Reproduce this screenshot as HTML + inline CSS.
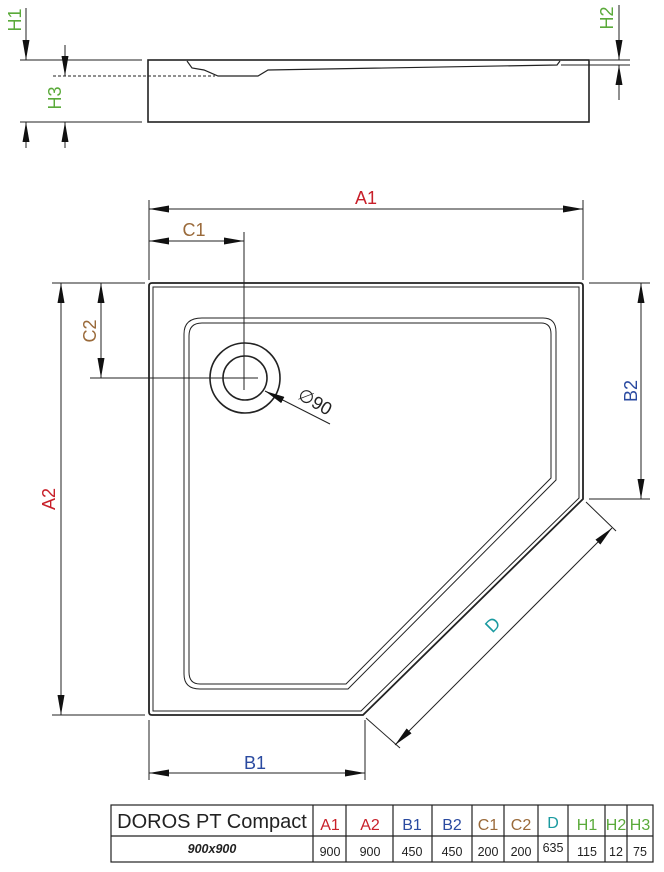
<!DOCTYPE html>
<html><head><meta charset="utf-8"><style>
html,body{margin:0;padding:0;background:#fff;}
svg{display:block;font-family:"Liberation Sans",sans-serif;}
</style></head><body>
<svg width="664" height="872" viewBox="0 0 664 872" xmlns="http://www.w3.org/2000/svg">
<defs>
<marker id="a" viewBox="0 0 20 7" refX="20" refY="3.5" markerWidth="20" markerHeight="7" markerUnits="userSpaceOnUse" orient="auto-start-reverse"><path d="M0,0 L20,3.5 L0,7 Z" fill="#111"/></marker>
</defs>
<g stroke="#222" fill="none" stroke-width="1">
<!-- side view -->
<rect x="148" y="60" width="441" height="62" stroke-width="1.6"/>
<path d="M187,61 L192,68 L204,70 L218,76 L258,76 L268,70 L557,65 L560,61" stroke-width="1.2"/>
<line x1="561" y1="65" x2="630" y2="65"/>
<line x1="20" y1="60" x2="142" y2="60"/>
<line x1="20" y1="122" x2="142" y2="122"/>
<line x1="590" y1="60" x2="630" y2="60"/>
<line x1="53" y1="76" x2="215" y2="76" stroke-dasharray="3,2"/>
<line x1="26" y1="8" x2="26" y2="60" marker-end="url(#a)"/>
<line x1="26" y1="148" x2="26" y2="122" marker-end="url(#a)"/>
<line x1="65" y1="45" x2="65" y2="76" marker-end="url(#a)"/>
<line x1="65" y1="148" x2="65" y2="122" marker-end="url(#a)"/>
<line x1="619" y1="5" x2="619" y2="60" marker-end="url(#a)"/>
<line x1="619" y1="100" x2="619" y2="65" marker-end="url(#a)"/>

<!-- plan outer -->
<path d="M149,286 Q149,283 152,283 L580,283 Q583,283 583,286 L583,499 L363,715 L152,715 Q149,715 149,712 Z" stroke-width="1.8"/>
<path d="M153,287 L579,287 L579,498 L361,711 L153,711 Z" stroke-width="1"/>
<!-- inner tray -->
<path d="M202,318 L543,318 Q556,318 556,332 L556,480 L348,689 L200,689 Q184,689 184,674 L184,334 Q184,318 202,318 Z" stroke-width="1"/>
<path d="M202,323 L541,323 Q551,323 551,334 L551,478 L346,684 L200,684 Q189,684 189,672 L189,336 Q189,323 202,323 Z" stroke-width="1"/>
<!-- drain -->
<circle cx="245" cy="378" r="35" stroke-width="1.6"/>
<circle cx="245" cy="378" r="22" stroke-width="1.6"/>
<line x1="244" y1="232" x2="244" y2="390"/>
<line x1="90" y1="378" x2="258" y2="378"/>
<line x1="330" y1="424" x2="265" y2="391" marker-end="url(#a)"/>

<!-- dimensions -->
<line x1="149" y1="200" x2="149" y2="280"/>
<line x1="583" y1="200" x2="583" y2="280"/>
<line x1="175" y1="209" x2="583" y2="209" marker-end="url(#a)"/>
<line x1="175" y1="209" x2="149" y2="209" marker-end="url(#a)"/>
<line x1="149" y1="241" x2="244" y2="241" marker-start="url(#a)" marker-end="url(#a)"/>
<line x1="52" y1="283" x2="145" y2="283"/>
<line x1="52" y1="715" x2="145" y2="715"/>
<line x1="61" y1="283" x2="61" y2="715" marker-start="url(#a)" marker-end="url(#a)"/>
<line x1="101" y1="283" x2="101" y2="378" marker-start="url(#a)" marker-end="url(#a)"/>
<line x1="589" y1="283" x2="650" y2="283"/>
<line x1="589" y1="499" x2="650" y2="499"/>
<line x1="641" y1="283" x2="641" y2="499" marker-start="url(#a)" marker-end="url(#a)"/>
<line x1="149" y1="720" x2="149" y2="780"/>
<line x1="365" y1="720" x2="365" y2="780"/>
<line x1="149" y1="773" x2="365" y2="773" marker-start="url(#a)" marker-end="url(#a)"/>
<line x1="366" y1="718" x2="400" y2="748"/>
<line x1="586" y1="502" x2="616" y2="531"/>
<line x1="395" y1="745" x2="612" y2="528" marker-start="url(#a)" marker-end="url(#a)"/>
</g>
<g font-size="18">
<text x="366" y="204" fill="#c8202a" text-anchor="middle">A1</text>
<text x="194" y="236" fill="#9a6a3a" text-anchor="middle">C1</text>
<text x="255" y="769" fill="#2a4aa0" text-anchor="middle">B1</text>
<text transform="translate(55,499) rotate(-90)" fill="#c8202a" text-anchor="middle">A2</text>
<text transform="translate(96,331) rotate(-90)" fill="#9a6a3a" text-anchor="middle">C2</text>
<text transform="translate(637,391) rotate(-90)" fill="#2a4aa0" text-anchor="middle">B2</text>
<text transform="translate(497,629) rotate(-45)" fill="#1a9aa0" text-anchor="middle">D</text>
<text transform="translate(312,407) rotate(30)" fill="#222" text-anchor="middle">∅90</text>
<text transform="translate(21,20) rotate(-90)" fill="#5aaa3a" text-anchor="middle">H1</text>
<text transform="translate(61,98) rotate(-90)" fill="#5aaa3a" text-anchor="middle">H3</text>
<text transform="translate(613,18) rotate(-90)" fill="#5aaa3a" text-anchor="middle">H2</text>
</g>
<!-- table -->
<g stroke="#222" fill="none" stroke-width="1.2">
<rect x="111" y="805" width="542" height="57"/>
<line x1="111" y1="836" x2="653" y2="836"/>
<line x1="313" y1="805" x2="313" y2="862"/>
<line x1="346" y1="805" x2="346" y2="862"/>
<line x1="393" y1="805" x2="393" y2="862"/>
<line x1="432" y1="805" x2="432" y2="862"/>
<line x1="472" y1="805" x2="472" y2="862"/>
<line x1="504" y1="805" x2="504" y2="862"/>
<line x1="538" y1="805" x2="538" y2="862"/>
<line x1="568" y1="805" x2="568" y2="862"/>
<line x1="605" y1="805" x2="605" y2="862"/>
<line x1="627" y1="805" x2="627" y2="862"/>
</g>
<g font-size="16" text-anchor="middle">
<text x="212" y="828" font-size="20" fill="#222">DOROS PT Compact</text>
<text x="330" y="830" fill="#c8202a">A1</text>
<text x="370" y="830" fill="#c8202a">A2</text>
<text x="412" y="830" fill="#2a4aa0">B1</text>
<text x="452" y="830" fill="#2a4aa0">B2</text>
<text x="488" y="830" fill="#9a6a3a">C1</text>
<text x="521" y="830" fill="#9a6a3a">C2</text>
<text x="553" y="828" fill="#1a9aa0">D</text>
<text x="587" y="830" fill="#5aaa3a">H1</text>
<text x="616" y="830" fill="#5aaa3a">H2</text>
<text x="640" y="830" fill="#5aaa3a">H3</text>
</g>
<g font-size="12.5" text-anchor="middle" fill="#222">
<text x="212" y="853" font-weight="bold" font-style="italic">900x900</text>
<text x="330" y="856">900</text>
<text x="370" y="856">900</text>
<text x="412" y="856">450</text>
<text x="452" y="856">450</text>
<text x="488" y="856">200</text>
<text x="521" y="856">200</text>
<text x="553" y="852">635</text>
<text x="587" y="856">115</text>
<text x="616" y="856">12</text>
<text x="640" y="856">75</text>
</g>
</svg>
</body></html>
